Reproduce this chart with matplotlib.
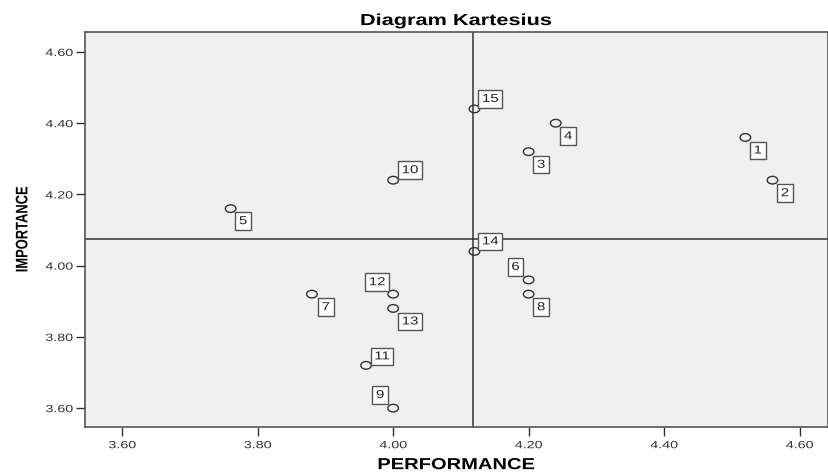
import matplotlib
matplotlib.use("Agg")
import matplotlib.pyplot as plt
import numpy as np
from matplotlib.path import Path
from matplotlib.transforms import Affine2D
from matplotlib.patheffects import AbstractPathEffect

plt.rcParams['font.family'] = ['Liberation Sans', 'DejaVu Sans']

# ---- data ----
ids = [1, 2, 3, 4, 5, 6, 7, 8, 9, 10, 11, 12, 13, 14, 15]
performance = [4.52, 4.56, 4.20, 4.24, 3.76, 4.20, 3.88, 4.20, 4.00, 4.00, 3.96, 4.00, 4.00, 4.12, 4.12]
importance = [4.36, 4.24, 4.32, 4.40, 4.16, 3.96, 3.92, 3.92, 3.60, 4.24, 3.72, 3.92, 3.88, 4.04, 4.44]
tick_vals = [3.60, 3.80, 4.00, 4.20, 4.40, 4.60]
title = "Diagram Kartesius"
xlabel = "PERFORMANCE"
ylabel = "IMPORTANCE"

# label placement (offset points) -- layout only
offsets = {
    1: (9.0, -9.4), 2: (9.0, -9.4), 3: (9.0, -9.4), 4: (9.0, -9.4), 5: (9.0, -9.0),
    7: (10.0, -9.4), 8: (9.0, -9.4), 13: (12.2, -9.4),
    6: (-9.4, 9.4), 9: (-9.4, 9.4), 12: (-11.5, 8.6),
    10: (12.2, 7.2), 11: (11.5, 6.5), 14: (11.5, 7.2), 15: (11.5, 7.2),
}
leader = {10, 11, 14, 15}


class Stretch(AbstractPathEffect):
    """Scale glyph/patch paths (the reference text looks horizontally widened)."""
    def __init__(self, sx=1.0, sy=1.0, anchor='center'):
        super().__init__()
        self.sx, self.sy, self.anchor = sx, sy, anchor

    def draw_path(self, renderer, gc, tpath, affine, rgbFace=None):
        if len(tpath.vertices) == 0:
            return
        ext = tpath.get_extents()
        if self.anchor == 'right':
            ax0 = ext.x1
        elif self.anchor == 'left':
            ax0 = ext.x0
        else:
            ax0 = 0.5 * (ext.x0 + ext.x1)
        ay0 = 0.5 * (ext.y0 + ext.y1)
        t = Affine2D().translate(-ax0, -ay0).scale(self.sx, self.sy).translate(ax0, ay0) + affine
        renderer.draw_path(gc, tpath, t, rgbFace)


fig = plt.figure(figsize=(8.29, 4.72), dpi=100)
ax = fig.add_axes([85/829, 1-427/472, (828-85)/829, (427-32)/472])
ax.set_facecolor('#f0f0f0')

circ = Path.unit_circle()
ell = Path(circ.vertices * np.array([1.0, 0.72]), circ.codes)

ax.scatter(performance, importance, marker=ell, s=58, facecolors='none',
           edgecolors='#333333', linewidths=1.0, zorder=3)

ax.axvline(np.mean(performance), color='#333333', lw=1.1, zorder=2)
ax.axhline(np.mean(importance), color='#333333', lw=1.1, zorder=2)

SX = 1.3
for i, x, y in zip(ids, performance, importance):
    dx, dy = offsets[i]
    kw = {}
    if i in leader:
        kw['arrowprops'] = dict(arrowstyle='-', color='#444444', lw=0.8, shrinkA=0, shrinkB=3)
    ann = ax.annotate(str(i), xy=(x, y), xytext=(dx, dy), textcoords='offset points',
                      ha='center', va='center', fontsize=8.3, color='#222222',
                      bbox=dict(boxstyle='square,pad=0.24', fc='white', ec='#555555', lw=1.0),
                      zorder=4, **kw)
    ann.set_path_effects([Stretch(SX, 1.0, 'center')])
    ann.get_bbox_patch().set_path_effects([Stretch(SX, 1.0, 'center')])

ax.set_xlim(3.545, 4.642)
ax.set_ylim(3.547, 4.656)
ax.set_xticks(tick_vals)
ax.set_yticks(tick_vals)
ax.set_xticklabels([f"{v:.2f}" for v in tick_vals])
ax.set_yticklabels([f"{v:.2f}" for v in tick_vals])
ax.tick_params(axis='both', direction='out', length=6.5, width=1, color='#333333',
               labelsize=7.5, labelcolor='#333333')
ax.tick_params(axis='y', pad=2.2)
ax.tick_params(axis='x', pad=3.0)
for sp in ax.spines.values():
    sp.set_color('#555555')
    sp.set_linewidth(1.2)

t = ax.set_title(title, fontsize=11.5, fontweight='bold', pad=5)
t.set_path_effects([Stretch(1.36, 1.0, 'center')])
xl = ax.set_xlabel(xlabel, fontsize=11.5, fontweight='bold', labelpad=5)
xl.set_path_effects([Stretch(1.26, 1.0, 'center')])
yl = ax.set_ylabel(ylabel, fontsize=9.3, fontweight='bold', labelpad=17)
yl.set_path_effects([Stretch(1.0, 1.3, 'center')])

fig.canvas.draw()
for lbl in ax.get_xticklabels():
    lbl.set_path_effects([Stretch(1.37, 1.0, 'center')])
for lbl in ax.get_yticklabels():
    lbl.set_path_effects([Stretch(1.37, 1.0, 'right')])

fig.savefig('out.png', dpi=100, facecolor='white')
